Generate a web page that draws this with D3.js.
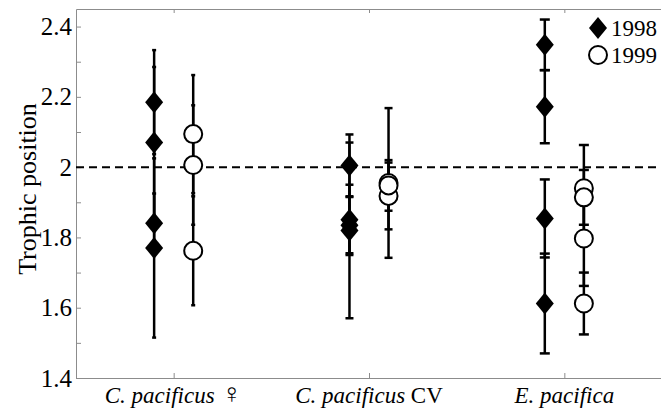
<!DOCTYPE html>
<html>
<head>
<meta charset="utf-8">
<script src="https://cdn.jsdelivr.net/npm/d3@7"></script>
<style>
  body { margin: 0; background: #fff; }
  text { font-family: "Liberation Serif", "Times New Roman", serif; fill: #000; }
</style>
</head>
<body>
<script>
// categories and labels
let catItalic = ["C. pacificus", "C. pacificus", "E. pacifica"];
let catSuffix = [" \u2640", " CV", ""];

// trophic position per category, 1998 and 1999, with error
let tp1998 = [[2.185, 2.07, 1.84, 1.77], [2.005, 1.85, 1.82, 1.835], [2.348, 2.172, 1.854, 1.612]];
let err1998 = [[0.148, 0.215, 0.085, 0.255], [0.088, 0.10, 0.25, 0.08], [0.072, 0.104, 0.111, 0.142]];
let tp1999 = [[2.094, 2.006, 1.762], [1.955, 1.918, 1.948], [1.94, 1.914, 1.797, 1.612]];
let err1999 = [[0.168, 0.17, 0.155], [0.213, 0.095, 0.072], [0.123, 0.078, 0.135, 0.088]];

let yMajor = [1.4, 1.6, 1.8, 2.0, 2.2, 2.4];
let yMinor = [1.5, 1.7, 1.9, 2.1, 2.3];
let refLine = 2.0;
let years = ["1998", "1999"];

let W = 661, H = 410;
let svg = d3.select("body").append("svg")
  .attr("width", W).attr("height", H);

let x = d3.scaleLinear().domain([0.5, 3.5]).range([76, 662]);
let y = d3.scaleLinear().domain([1.4, 2.45]).range([378, 9]);
let capW = [4, 8, 10];
let axisColor = "#8c8c8c";

// flatten data
let rows = [];
let add = (vals, errs, yr, off) => {
  vals.forEach((g, i) => g.forEach((v, j) => {
    rows.push({ cat: i, year: yr, pos: i + 1 + off, v: v, e: errs[i][j] });
  }));
};
add(tp1998, err1998, "1998", -0.1);
add(tp1999, err1999, "1999", 0.1);

// axes
let styleAxis = g => {
  g.select(".domain").attr("stroke", axisColor);
  g.selectAll(".tick line").attr("stroke", axisColor);
};

svg.append("g")
  .attr("transform", "translate(" + x.range()[0] + ",0)")
  .call(d3.axisLeft(y).tickValues(yMajor.concat(yMinor)).tickSize(-5).tickSizeOuter(0).tickPadding(4)
    .tickFormat(d => yMajor.some(m => Math.abs(m - d) < 1e-9) ? String(+d.toFixed(1)) : ""))
  .call(styleAxis)
  .selectAll("text").attr("font-size", 25).attr("fill", "#000")
  .style("font-family", "'Liberation Serif', serif");

svg.append("g")
  .attr("transform", "translate(0," + y.range()[0] + ")")
  .call(d3.axisBottom(x).tickValues([1, 2, 3]).tickSize(-5).tickSizeOuter(0).tickFormat(""))
  .call(styleAxis);

svg.append("g")
  .attr("transform", "translate(0," + y.range()[1] + ")")
  .call(d3.axisTop(x).tickValues([1, 2, 3]).tickSize(-4).tickSizeOuter(0).tickFormat(""))
  .call(styleAxis);

// category labels
catItalic.forEach((c, i) => {
  let t = svg.append("text")
    .attr("x", x(i + 1))
    .attr("y", 403)
    .attr("text-anchor", "middle")
    .attr("font-size", 23);
  t.append("tspan").attr("font-style", "italic").text(c);
  if (catSuffix[i]) {
    t.append("tspan").attr("font-size", i === 0 ? 28 : 23).text(catSuffix[i]);
  }
});

// y label
svg.append("text")
  .text("Trophic position")
  .attr("transform", "translate(36," + 189 + ") rotate(-90)")
  .attr("text-anchor", "middle")
  .attr("font-size", 26);

// reference line
svg.append("line")
  .attr("x1", x.range()[0]).attr("x2", x.range()[1])
  .attr("y1", y(refLine)).attr("y2", y(refLine))
  .attr("stroke", "#000").attr("stroke-width", 2)
  .attr("stroke-dasharray", "8,5");

// error bars
let bars = svg.append("g").attr("stroke", "#000").attr("stroke-width", 2.5);
rows.forEach(d => {
  let cx = x(d.pos), hw = capW[d.cat] / 2;
  bars.append("line").attr("x1", cx).attr("x2", cx)
    .attr("y1", y(d.v + d.e)).attr("y2", y(d.v - d.e));
  [d.v + d.e, d.v - d.e].forEach(t => {
    bars.append("line").attr("x1", cx - hw).attr("x2", cx + hw)
      .attr("y1", y(t)).attr("y2", y(t));
  });
});

// markers
let diamond = "M0,-11L9,0L0,11L-9,0Z";
let marker = (g, yr) => {
  if (yr === "1998") {
    g.append("path").attr("d", diamond).attr("fill", "#000");
  } else {
    g.append("circle").attr("r", 9).attr("fill", "#fff")
      .attr("stroke", "#000").attr("stroke-width", 2);
  }
};

svg.selectAll(".pt")
  .data(rows)
  .enter()
  .append("g")
  .attr("class", "pt")
  .attr("transform", d => "translate(" + x(d.pos) + "," + y(d.v) + ")")
  .each(function (d) { marker(d3.select(this), d.year); });

// legend
years.forEach((yr, i) => {
  let g = svg.append("g").attr("transform", "translate(598," + (28 + i * 27) + ")");
  marker(g, yr);
  g.append("text").text(yr).attr("x", 13).attr("y", 8).attr("font-size", 23);
});
</script>
</body>
</html>
